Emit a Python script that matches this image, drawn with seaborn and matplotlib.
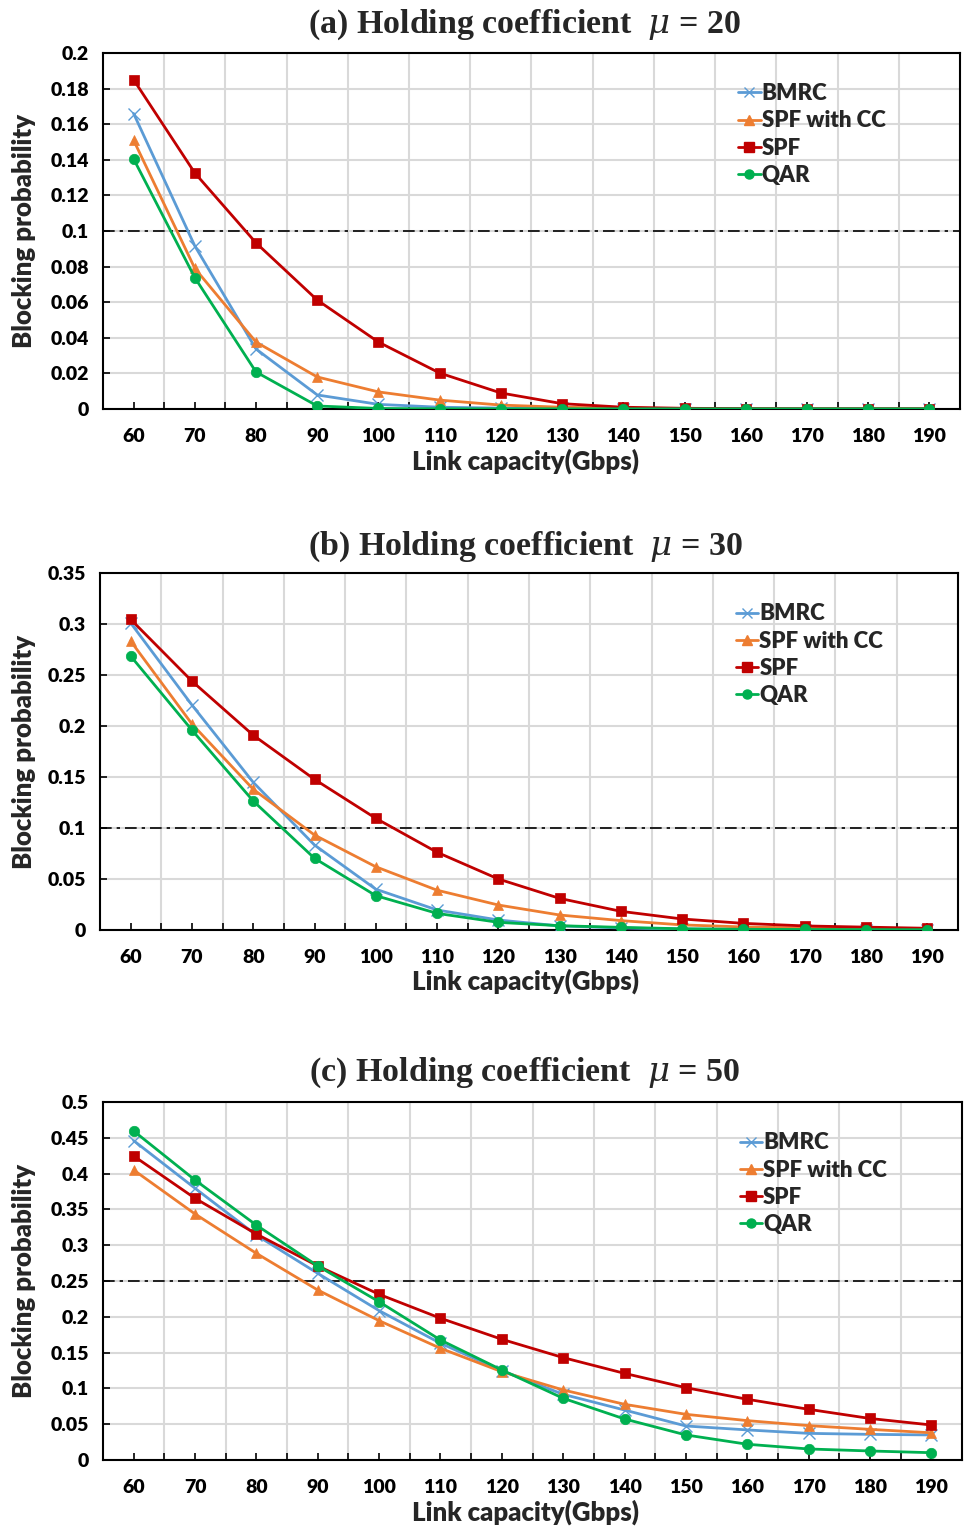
import numpy as np
import pandas as pd
import matplotlib
matplotlib.use("Agg")
import matplotlib.pyplot as plt
import seaborn as sns
from matplotlib.lines import Line2D

capacity = [60, 70, 80, 90, 100, 110, 120, 130, 140, 150, 160, 170, 180, 190]
series_names = ["BMRC", "SPF with CC", "SPF", "QAR"]

# Panel (a) mu = 20
a_bmrc = [0.166, 0.0916, 0.0337, 0.0079, 0.0026, 0.001, 0.0005, 0.0003, 0.0002, 0.0001, 0.0001, 0.0001, 0.0001, 0.0001]
a_spfcc = [0.151, 0.079, 0.0376, 0.018, 0.0096, 0.005, 0.0022, 0.001, 0.0005, 0.0002, 0.0001, 0.0001, 0.0001, 0.0001]
a_spf = [0.185, 0.1326, 0.0933, 0.0612, 0.0376, 0.0202, 0.009, 0.003, 0.001, 0.0004, 0.0002, 0.0001, 0.0001, 0.0001]
a_qar = [0.1405, 0.0738, 0.0208, 0.0017, 0.0003, 0.0001, 0.0001, 0.0001, 0.0001, 0.0001, 0.0001, 0.0001, 0.0001, 0.0001]

# Panel (b) mu = 30
b_bmrc = [0.301, 0.2206, 0.1448, 0.0833, 0.040, 0.0196, 0.0098, 0.004, 0.002, 0.001, 0.0006, 0.0004, 0.0003, 0.0002]
b_spfcc = [0.2833, 0.202, 0.138, 0.0931, 0.062, 0.039, 0.0245, 0.0147, 0.0092, 0.005, 0.003, 0.002, 0.0012, 0.001]
b_spf = [0.3046, 0.244, 0.191, 0.1477, 0.1095, 0.0762, 0.050, 0.031, 0.0183, 0.0108, 0.0065, 0.004, 0.0028, 0.0017]
b_qar = [0.2686, 0.196, 0.1265, 0.0703, 0.0337, 0.0163, 0.0075, 0.0042, 0.0026, 0.0012, 0.0007, 0.0005, 0.0004, 0.0003]

# Panel (c) mu = 50
c_bmrc = [0.446, 0.3795, 0.314, 0.2607, 0.2086, 0.163, 0.1248, 0.0917, 0.0698, 0.0475, 0.042, 0.0372, 0.0358, 0.035]
c_spfcc = [0.405, 0.3436, 0.2886, 0.2374, 0.1946, 0.156, 0.1233, 0.0978, 0.0778, 0.0638, 0.055, 0.048, 0.0428, 0.038]
c_spf = [0.4246, 0.3655, 0.3156, 0.271, 0.2314, 0.198, 0.1686, 0.143, 0.121, 0.101, 0.0848, 0.0708, 0.058, 0.0489]
c_qar = [0.4595, 0.391, 0.328, 0.271, 0.221, 0.1676, 0.1257, 0.0862, 0.0573, 0.035, 0.022, 0.0154, 0.0126, 0.0102]

titles = ["(a) Holding coefficient  $\\mu$ = 20",
          "(b) Holding coefficient  $\\mu$ = 30",
          "(c) Holding coefficient  $\\mu$ = 50"]
thresholds = [0.1, 0.1, 0.25]
ylims = [0.2, 0.35, 0.5]
ysteps = [0.02, 0.05, 0.05]
xlabel = "Link capacity(Gbps)"
ylabel = "Blocking probability"

colors = {"BMRC": "#5B9BD5", "SPF with CC": "#ED7D31", "SPF": "#C00000", "QAR": "#00B050"}
markers = {"BMRC": "x", "SPF with CC": "^", "SPF": "s", "QAR": "o"}
msizes = {"BMRC": 8, "SPF with CC": 7.5, "SPF": 7.5, "QAR": 7.5}

sns.set_style("white")
plt.rcParams["font.family"] = ["Lato", "DejaVu Sans"]
plt.rcParams["mathtext.fontset"] = "dejavuserif"

fig = plt.figure(figsize=(9.65, 15.28), dpi=100)
W, H = 965.0, 1528.0
boxes = [(103, 53, 960, 409), (100, 573, 958, 930), (103, 1102, 962, 1460)]
title_y = [25, 547, 1073]
xlabel_y = [461, 981, 1512]
WEIGHT = "heavy"

panels = [
    [a_bmrc, a_spfcc, a_spf, a_qar],
    [b_bmrc, b_spfcc, b_spf, b_qar],
    [c_bmrc, c_spfcc, c_spf, c_qar],
]

for i, (vals, box) in enumerate(zip(panels, boxes)):
    l, t, r, b = box
    ax = fig.add_axes([l / W, 1 - b / H, (r - l) / W, (b - t) / H])
    for name, v in zip(series_names, vals):
        df = pd.DataFrame({"cap": capacity, "p": v})
        sns.lineplot(data=df, x="cap", y="p", ax=ax, color=colors[name],
                     marker=markers[name], markersize=msizes[name],
                     markeredgecolor=colors[name],
                     markeredgewidth=1.0 if name == "BMRC" else 0.5,
                     linewidth=2.0, label=name, zorder=3)
    ax.axhline(thresholds[i], color="black", lw=1.2, dashes=(7, 3, 2, 3), zorder=2)
    ax.set_xlim(55, 195)
    ax.set_ylim(0, ylims[i])
    yt = np.round(np.arange(0, ylims[i] + 1e-9, ysteps[i]), 3)
    ax.set_yticks(yt)
    ax.set_yticklabels(["0" if v == 0 else f"{v:g}" for v in yt])
    ax.set_xticks(capacity)
    ax.set_xticklabels([str(c) for c in capacity])
    ax.set_xticks(np.arange(65, 190, 10), minor=True)
    ax.grid(False)
    ax.grid(True, which="minor", axis="x", color="#d9d9d9", lw=1.5, zorder=0)
    ax.grid(True, which="major", axis="y", color="#d9d9d9", lw=1.5, zorder=0)
    ax.set_axisbelow(True)
    ax.tick_params(axis="both", which="both", direction="in", length=5, width=1.2,
                   colors="black", labelsize=14, bottom=True, left=True)
    ax.tick_params(axis="x", pad=14)
    ax.tick_params(axis="y", pad=10)
    for lab in ax.get_xticklabels() + ax.get_yticklabels():
        lab.set_fontweight(WEIGHT)
    for sp in ax.spines.values():
        sp.set_color("black")
        sp.set_linewidth(1.5)
    ax.set_xlabel("")
    ax.set_ylabel("")
    handles = [Line2D([0], [0], color=colors[n], marker=markers[n], markersize=msizes[n] - 1,
                      markeredgecolor=colors[n], lw=2) for n in series_names]
    ax.legend(handles, series_names, loc="upper left", bbox_to_anchor=(0.731, 0.94),
              frameon=False, handlelength=1.0, handletextpad=0.05, labelspacing=0.28,
              prop={"weight": WEIGHT, "size": 16}, borderaxespad=0)
    fig.text(525 / W, 1 - title_y[i] / H, titles[i], ha="center", va="center",
             fontsize=24.5, fontweight="bold", family=["Liberation Serif", "DejaVu Serif"])
    fig.text(525 / W, 1 - xlabel_y[i] / H, xlabel, ha="center", va="center",
             fontsize=18.5, fontweight=WEIGHT)
    fig.text(24 / W, 1 - ((t + b) / 2) / H, ylabel, ha="center", va="center",
             rotation=90, fontsize=18.5, fontweight=WEIGHT)

fig.savefig("out.png", dpi=100, facecolor="white")
